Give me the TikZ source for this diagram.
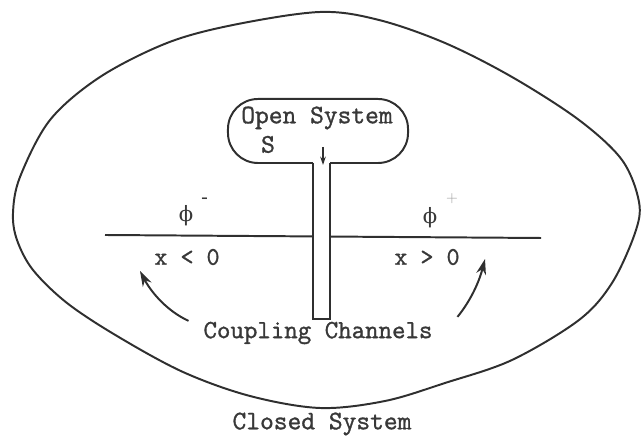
\documentclass[tikz,border=0pt]{standalone}
\usepackage{fontspec}
\usepackage{xcolor}
\usepackage{tikz}
\usetikzlibrary{arrows.meta}
\newfontfamily\grkfont{DejaVu Serif}
\newfontfamily\twfont{Latin Modern Mono}[FakeBold=1.2]
\definecolor{ink}{HTML}{2F2F2F}
\definecolor{txt}{HTML}{383838}
\definecolor{txtfaint}{HTML}{9A9A9A}
\tikzset{
  lbl/.style={txt, font=\fontsize{19}{22}\selectfont\twfont},
  wall/.style={ink, line width=1.4pt},
  hook/.style={ink, line width=1.4pt, -{Stealth[length=11pt, width=7pt]}},
}

\begin{document}
\begin{tikzpicture}[x=0.025cm, y=0.025cm]
    \useasboundingbox (0,0) rectangle (642,438);
    % closed system outline
    \draw[wall] plot[smooth cycle, tension=0.55] coordinates {(50,318) (100,361) (167,395) (233,413) (320,426) (379,418) (445,395) (512,361) (579,318) (622,278) (639,236) (635,205) (612,155) (579,118) (512,78) (445,55) (385,37) (320,30) (250,42) (183,66) (117,102) (67,135) (33,168) (17,198) (13,225) (20,261)};
    % axis line
    \draw[wall] (105,203) -- (541,200);
    % open system box and channel
    \node[wall, draw, rounded corners=0.75cm, minimum width=4.5cm, minimum height=1.6cm] (open) at (318,307) {};
    \fill[white] (313,117) rectangle (330,276);
    \draw[wall] (313,275) -- (313,119) -- (330,119) -- (330,275);
    \coordinate (mouth) at (323,273);
    \draw[ink, line width=1pt, -{Stealth[length=6pt, width=4pt]}] (323,291) -- (mouth);
    \node[lbl] (title) at (317,320) {Open System};
    \node[lbl, anchor=north] (sname) at (268,307) {S};
    % half lines
    \node[txt, font=\fontsize{15}{18}\selectfont\grkfont] (phim) at (186,222) {ϕ};
    \node[txt, font=\fontsize{12}{14}\selectfont\bfseries] at (205,238) {-};
    \node[txt, font=\fontsize{15}{18}\selectfont\grkfont] (phip) at (430,220) {ϕ};
    \node[txtfaint, font=\fontsize{11}{13}\selectfont] at (452,239) {+};
    \node[lbl, font=\fontsize{18}{21}\selectfont\twfont] (left) at (187,181) {x < 0};
    \node[lbl, font=\fontsize{18}{21}\selectfont\twfont] (right) at (427,181) {x > 0};
    % coupling
    \node[lbl, font=\fontsize{18.6}{22}\selectfont\twfont] (cc) at (318,105) {Coupling Channels};
    \coordinate (ltip) at (140,167);
    \coordinate (rtip) at (485,179);
    \draw[hook] (cc.north west) ++(-10,-4) .. controls (165,128) and (150,148) .. (ltip);
    \draw[hook] (cc.north east) ++(20,0) .. controls (468,134) and (478,152) .. (rtip);
    \node[lbl] (closed) at (322,14) {Closed System};
\end{tikzpicture}
\end{document}
